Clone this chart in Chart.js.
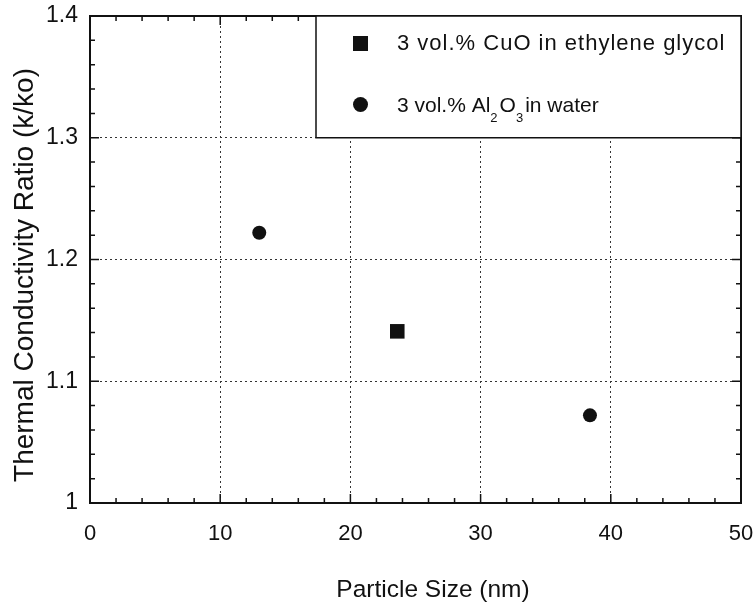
<!DOCTYPE html>
<html>
<head>
<meta charset="utf-8">
<script src="https://cdn.jsdelivr.net/npm/chart.js@4/dist/chart.umd.min.js"></script>
<style>
  html, body { margin: 0; padding: 0; background: #fff; }
  #wrap { width: 756px; height: 602px; }
</style>
</head>
<body>
<div id="wrap"><canvas id="grafico" width="756" height="602"></canvas></div>
<script>
// dados
const cuoSize = [23.6];
const cuoRatio = [1.141];
const aluminaSize = [13.0, 38.4];
const aluminaRatio = [1.222, 1.072];

const xTickLabels = ['0', '10', '20', '30', '40', '50'];
const yTickLabels = ['1', '1.1', '1.2', '1.3', '1.4'];

const xTitle = 'Particle Size (nm)';
const yTitle = 'Thermal Conductivity Ratio (k/ko)';
const cuoLabel = '3 vol.% CuO in ethylene glycol';
const aluminaLabel = ['3 vol.% Al', '2', 'O', '3', 'in water'];

const FONT = '"Liberation Sans", Arial, Helvetica, sans-serif';
const INK = '#111';

// moldura com marcas de escala para dentro, nos quatro lados
const moldura = {
  id: 'moldura',
  afterDatasetsDraw(chart) {
    const {ctx, chartArea: a, scales: {x, y}} = chart;
    ctx.save();
    ctx.strokeStyle = INK;
    ctx.lineWidth = 1.5;
    for (let i = 0; i <= 25; i++) {
      const px = x.getPixelForValue(i * 2);
      const len = i % 5 === 0 ? 9 : 5;
      ctx.beginPath();
      ctx.moveTo(px, a.bottom); ctx.lineTo(px, a.bottom - len);
      ctx.moveTo(px, a.top); ctx.lineTo(px, a.top + len);
      ctx.stroke();
    }
    for (let i = 0; i <= 20; i++) {
      const py = y.getPixelForValue(1 + i * 0.02);
      const len = i % 5 === 0 ? 9 : 5;
      ctx.beginPath();
      ctx.moveTo(a.left, py); ctx.lineTo(a.left + len, py);
      ctx.moveTo(a.right, py); ctx.lineTo(a.right - len, py);
      ctx.stroke();
    }
    ctx.lineWidth = 2;
    ctx.strokeRect(a.left, a.top, a.right - a.left, a.bottom - a.top);
    ctx.restore();
  }
};

// titulos dos eixos e legenda em caixa, com subscritos
const textos = {
  id: 'textos',
  afterDraw(chart) {
    const {ctx, chartArea: a, scales: {y}} = chart;
    ctx.save();
    ctx.fillStyle = INK;
    ctx.textBaseline = 'alphabetic';

    // titulo do eixo x
    ctx.textAlign = 'center';
    ctx.font = '24.5px ' + FONT;
    ctx.fillText(xTitle, a.left + 343, 597);

    // titulo do eixo y
    ctx.save();
    ctx.translate(33, a.top + 259);
    ctx.rotate(-Math.PI / 2);
    ctx.font = '28px ' + FONT;
    ctx.fillText(yTitle, 0, 0);
    ctx.restore();

    // legenda
    const left = a.left + 226, top = a.top, right = a.right;
    const bottom = y.getPixelForValue(1.3);
    ctx.fillStyle = '#fff';
    ctx.fillRect(left, top, right - left, bottom - top);
    ctx.strokeStyle = INK;
    ctx.lineWidth = 1.5;
    ctx.strokeRect(left, top, right - left, bottom - top);

    ctx.fillStyle = INK;
    ctx.fillRect(left + 37, top + 20, 15, 15);
    ctx.beginPath();
    ctx.arc(left + 44.5, top + 88.5, 7.5, 0, Math.PI * 2);
    ctx.fill();

    ctx.textAlign = 'left';
    ctx.font = '22px ' + FONT;
    ctx.letterSpacing = '1px';
    let tx = left + 81;
    ctx.fillText(cuoLabel, tx, top + 34);
    ctx.letterSpacing = '0px';

    const ty = top + 96;
    aluminaLabel.forEach((part, i) => {
      const sub = i % 2 === 1;
      ctx.font = (sub ? '13px ' : '21px ') + FONT;
      ctx.fillText(part, tx, sub ? ty + 10 : ty);
      tx += ctx.measureText(part).width + (sub ? 2 : 0);
    });
    ctx.restore();
  }
};

const ctx = document.getElementById('grafico').getContext('2d');
const grafico = new Chart(ctx, {
  type: 'scatter',
  data: {
    datasets: [{
      label: cuoLabel,
      data: cuoSize.map((v, i) => ({x: v, y: cuoRatio[i]})),
      pointStyle: 'rect',
      pointRadius: 10.3,
      backgroundColor: INK,
      borderColor: INK,
      borderWidth: 0
    }, {
      label: '3 vol.% Al2O3 in water',
      data: aluminaSize.map((v, i) => ({x: v, y: aluminaRatio[i]})),
      pointStyle: 'circle',
      pointRadius: 7,
      backgroundColor: INK,
      borderColor: INK,
      borderWidth: 0
    }]
  },
  options: {
    responsive: false,
    animation: false,
    layout: { padding: { top: 16, right: 15, left: 0, bottom: 0 } },
    plugins: {
      legend: { display: false },
      tooltip: { enabled: false }
    },
    scales: {
      x: {
        type: 'linear',
        min: 0, max: 50,
        afterFit: s => { s.height = 99; s.paddingLeft = 0; s.paddingRight = 0; },
        ticks: {
          stepSize: 10,
          padding: 18,
          color: INK,
          font: { family: FONT, size: 22 },
          callback: (v) => xTickLabels[Math.round(v / 10)]
        },
        grid: { color: '#333', lineWidth: 1, drawTicks: false },
        border: { display: false, dash: [2, 3] }
      },
      y: {
        type: 'linear',
        min: 1, max: 1.4,
        afterFit: s => { s.width = 90; s.paddingTop = 0; s.paddingBottom = 0; },
        ticks: {
          stepSize: 0.1,
          padding: 12,
          color: INK,
          font: { family: FONT, size: 23 },
          callback: (v) => yTickLabels[Math.round((v - 1) * 10)]
        },
        grid: { color: '#333', lineWidth: 1, drawTicks: false },
        border: { display: false, dash: [2, 3] }
      }
    }
  },
  plugins: [moldura, textos]
});
</script>
</body>
</html>
